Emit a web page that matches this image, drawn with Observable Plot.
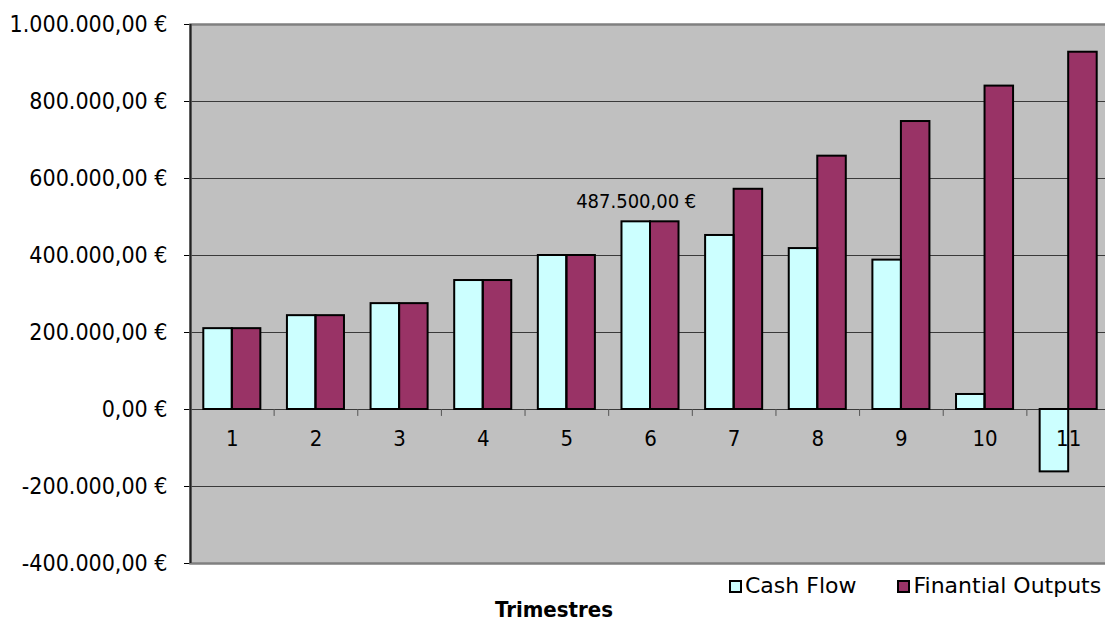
<!DOCTYPE html>
<html>
<head>
<meta charset="utf-8">
<script src="https://cdn.jsdelivr.net/npm/d3@7"></script>
<script src="https://cdn.jsdelivr.net/npm/@observablehq/plot@0.6"></script>
<style>
  html, body { margin: 0; padding: 0; background: #fff; overflow: hidden; width: 1105px; height: 621px; }
  #wrap { position: relative; width: 1105px; height: 621px; font-family: "DejaVu Sans Condensed", "DejaVu Sans", sans-serif; color: #000; }
  #wrap svg { position: absolute; left: 0; top: 0; }
  #legend { position: absolute; left: 729px; top: 573px; display: flex; align-items: center; font-family: "DejaVu Sans", sans-serif; font-size: 22px; line-height: 26px; white-space: nowrap; }
  #legend .item { display: flex; align-items: center; margin-right: 41px; }
  #legend .item:last-child { margin-right: 0; }
  #legend .sw { width: 9px; height: 9px; border: 2px solid #000; margin-right: 3px; }
  #title { position: absolute; left: 554px; top: 598px; transform: translateX(-50%); font-size: 22px; line-height: 24px; font-weight: bold; white-space: nowrap; }
</style>
</head>
<body>
<div id="wrap"></div>
<script>
// ---- data ----
const quarters = [1, 2, 3, 4, 5, 6, 7, 8, 9, 10, 11];
const cashFlow = [210000, 243750, 275000, 335000, 400000, 487500, 452000, 418000, 388000, 39000, -162000];
const finOutputs = [210000, 243750, 275000, 335000, 400000, 487500, 572000, 658000, 748000, 840000, 928000];
const seriesNames = ["Cash Flow", "Finantial Outputs"];
const seriesColors = ["#ccffff", "#993366"];
const yTicks = [-400000, -200000, 0, 200000, 400000, 600000, 800000, 1000000];
const xTitle = "Trimestres";
const labeledQuarter = 6;

// ---- build ----
const euro = d3.formatLocale({decimal: ",", thousands: ".", grouping: [3], currency: ["", " €"], minus: "-"});
const fmt = euro.format("$,.2f");

const barShare = 0.341; // each bar as a share of one category step
const rows = quarters.flatMap((q, i) => [
  {q, s: seriesNames[0], v: cashFlow[i], x1: q - barShare, x2: q},
  {q, s: seriesNames[1], v: finOutputs[i], x1: q, x2: q + barShare}
]);
const boundaries = quarters.map(q => q + 0.5);
const labelRow = rows.find(r => r.q === labeledQuarter && r.s === seriesNames[0]);

const chart = Plot.plot({
  width: 1105,
  height: 580,
  marginTop: 24,
  marginBottom: 17,
  marginLeft: 190,
  marginRight: -5,
  style: {fontSize: "23px", fontFamily: '"DejaVu Sans Condensed", "DejaVu Sans", sans-serif', color: "#000", background: "transparent"},
  x: {domain: [quarters[0] - 0.5, quarters[quarters.length - 1] + 0.5], axis: null},
  y: {domain: [yTicks[0], yTicks[yTicks.length - 1]], ticks: yTicks, tickFormat: fmt, tickSize: 6, tickPadding: 17, label: null},
  color: {domain: seriesNames, range: seriesColors},
  marks: [
    Plot.frame({fill: "#c0c0c0", stroke: null}),
    Plot.ruleY(yTicks, {stroke: "#3a3a3a", strokeWidth: 1}),
    Plot.ruleX(boundaries, {x: d => d, y1: () => 0, y2: () => -18000, stroke: "#555", strokeWidth: 1}),
    Plot.rect(rows, {x1: "x1", x2: "x2", y1: () => 0, y2: "v", fill: "s"}),
    Plot.text(quarters, {x: d => d, y: () => 0, text: d => String(d), dy: 29, fontSize: 22, fill: "#000"}),
    Plot.rect(rows, {x1: "x1", x2: "x2", y1: () => 0, y2: "v", fill: "none", stroke: "#000", strokeWidth: 2}),
    Plot.frame({stroke: "#808080", strokeWidth: 2.5}),
    Plot.ruleX([quarters[0] - 0.5], {stroke: "#222", strokeWidth: 2}),
    Plot.text([labelRow], {x: d => (d.x1 + d.x2) / 2, y: "v", text: d => fmt(d.v), dy: -14, lineAnchor: "bottom", fontSize: 20, fill: "#000"})
  ]
});

const wrap = document.getElementById("wrap");
wrap.appendChild(chart);

const legend = document.createElement("div");
legend.id = "legend";
seriesNames.forEach((name, i) => {
  const item = document.createElement("div");
  item.className = "item";
  const sw = document.createElement("div");
  sw.className = "sw";
  sw.style.background = seriesColors[i];
  const t = document.createElement("span");
  t.textContent = name;
  item.appendChild(sw);
  item.appendChild(t);
  legend.appendChild(item);
});
wrap.appendChild(legend);

const title = document.createElement("div");
title.id = "title";
title.textContent = xTitle;
wrap.appendChild(title);
</script>
</body>
</html>
